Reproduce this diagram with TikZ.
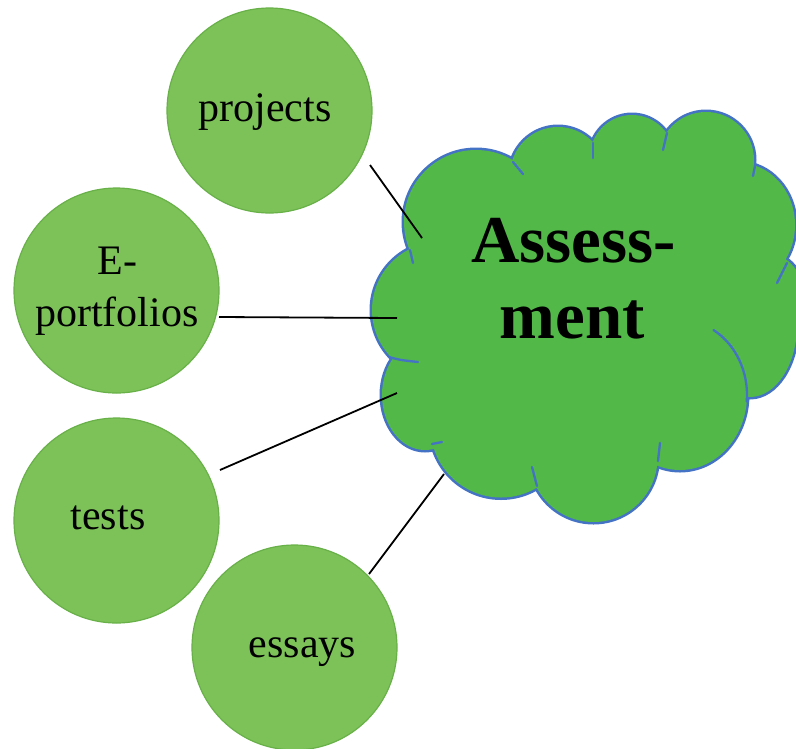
\documentclass[tikz,border=0pt]{standalone}
\usepackage{fontspec}
\setmainfont{Liberation Serif}
\definecolor{circfill}{RGB}{125,194,89}
\definecolor{circline}{RGB}{104,176,72}
\definecolor{cloudfill}{RGB}{82,184,72}
\definecolor{cloudline}{RGB}{68,114,196}
\begin{document}
\begin{tikzpicture}[x=1pt,y=-1pt,
  bubble/.style={circle,fill=circfill,draw=circline,line width=1.2pt,minimum size=205pt,inner sep=0pt},
  lbl/.style={anchor=base,font=\fontsize{42}{50}\selectfont,inner sep=0pt},
  big/.style={anchor=base,font=\fontsize{67}{76}\selectfont\bfseries,inner sep=0pt},
  link/.style={draw=black,line width=1.8pt},
  stub/.style={draw=cloudline,line width=2.3pt,line cap=round}]
\useasboundingbox (0,0) rectangle (796,748);
% circles
\node[bubble] (pproj) at (269.5,110.5) {};
\node[bubble] (peport) at (116.5,290.5) {};
\node[bubble] (ptests) at (116.5,520.5) {};
\node[bubble] (pessays) at (294.5,647.5) {};
\node[lbl] (tproj) at (265,121) {projects};
\node[lbl] (te) at (117.5,274) {E-};
\node[lbl] (tport) at (117,326) {portfolios};
\node[lbl] (ttests) at (108,529) {tests};
\node[lbl] (tessays) at (302.5,657) {essays};
% cloud outline (stroke, then fill over inner half)
\draw[cloudline,line width=5pt]
  (440,310) circle[radius=68]
  (476,222) circle[radius=72]
  (558,175) circle[radius=48]
  (632,157) circle[radius=42]
  (706,160) circle[radius=48]
  (739,225) ellipse[x radius=56,y radius=62]
  (765,290) circle[radius=37]
  (750,325) ellipse[x radius=47,y radius=72]
  (680,395) ellipse[x radius=67,y radius=75]
  (593.5,458) circle[radius=64]
  (501,427) circle[radius=70.5]
  (425,395) ellipse[x radius=43,y radius=55];
\fill[cloudfill]
  (440,310) circle[radius=68]
  (476,222) circle[radius=72]
  (558,175) circle[radius=48]
  (632,157) circle[radius=42]
  (706,160) circle[radius=48]
  (739,225) ellipse[x radius=56,y radius=62]
  (765,290) circle[radius=37]
  (750,325) ellipse[x radius=47,y radius=72]
  (680,395) ellipse[x radius=67,y radius=75]
  (593.5,458) circle[radius=64]
  (501,427) circle[radius=70.5]
  (425,395) ellipse[x radius=43,y radius=55];
\fill[cloudfill] (440,310) -- (476,222) -- (558,175) -- (632,157) -- (706,160)
  -- (739,225) -- (765,290) -- (750,325) -- (680,395) -- (593.5,458)
  -- (501,427) -- (425,395) -- cycle;
% inner arcs of the cloud
\draw[stub] (713.5,330) arc[start angle=-60,end angle=5,x radius=67,y radius=75];
\draw[stub] (410,250) -- (413,263);
\draw[stub] (513,162) -- (523,174);
\draw[stub] (593,143) -- (593,158);
\draw[stub] (667,133) -- (663,150);
\draw[stub] (755,166) -- (753,176);
\draw[stub] (787,263) -- (777,283);
\draw[stub] (389,357) .. controls (400,360) .. (418,362);
\draw[stub] (432,444) -- (442,442);
\draw[stub] (532,467) -- (537,486);
\draw[stub] (660,443) -- (658,461);
\node[big] (assess1) at (573.5,262) {Assess-};
\node[big] (assess2) at (572.5,338) {ment};
% connectors
\coordinate (s1) at (370,165); \coordinate (e1) at (422,238);
\coordinate (s2) at (219,317); \coordinate (e2) at (397,318);
\coordinate (s3) at (220,470); \coordinate (e3) at (397,393);
\coordinate (s4) at (369,574); \coordinate (e4) at (444,474);
\draw[link] (s1) -- (e1);
\draw[link] (s2) -- (e2);
\draw[link] (s3) -- (e3);
\draw[link] (s4) -- (e4);
\end{tikzpicture}
\end{document}
